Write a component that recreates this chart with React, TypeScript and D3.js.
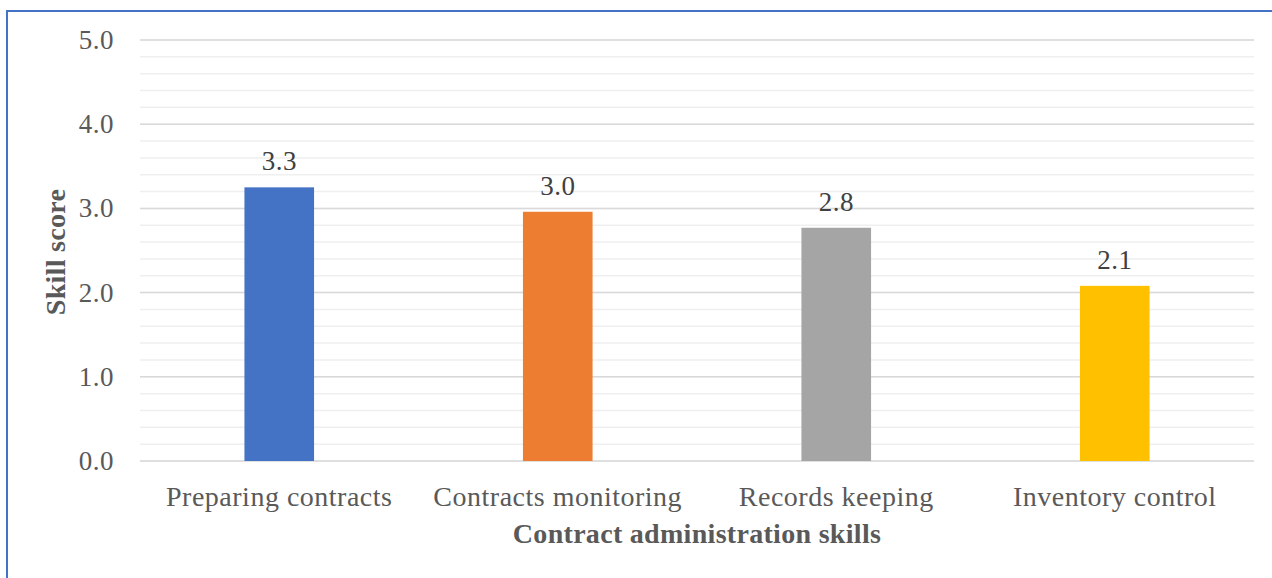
import React from "react";
import * as d3 from "d3";

const categories = ["Preparing contracts", "Contracts monitoring", "Records keeping", "Inventory control"];
const skillScores = [3.25, 2.96, 2.77, 2.08];
const barColors = ["#4472C4", "#ED7D31", "#A5A5A5", "#FFC000"];
const yTicks = [0, 1, 2, 3, 4, 5];
const yMinorTicks = d3.range(0, 5.0001, 0.2);

const W = 1272;
const H = 578;
const margin = { left: 140, right: 18, top: 40, bottom: 117 };

export default function App() {
  const x = d3
    .scaleBand<string>()
    .domain(categories)
    .range([margin.left, W - margin.right])
    .paddingInner(0.75)
    .paddingOuter(0.375);
  const y = d3.scaleLinear().domain([0, 5]).range([H - margin.bottom, margin.top]);
  const fmt = d3.format(".1f");
  const textColor = "#595959";
  const font = "'Liberation Serif', 'Times New Roman', serif";
  const x0 = margin.left;
  const x1 = W - margin.right;

  return (
    <svg
      width={W}
      height={H}
      style={{ position: "absolute", left: 0, top: 0, background: "#fff" }}
      fontFamily={font}
    >
      <rect x={7} y={11} width={W + 10} height={H + 10} fill="none" stroke="#4472C4" strokeWidth={2} />
      {yMinorTicks.map((t, i) => (
        <line key={"m" + i} x1={x0} x2={x1} y1={y(t)} y2={y(t)} stroke="#EFEFEF" strokeWidth={1.5} />
      ))}
      {yTicks.map((t) => (
        <line key={"g" + t} x1={x0} x2={x1} y1={y(t)} y2={y(t)} stroke="#D9D9D9" strokeWidth={1.5} />
      ))}
      {yTicks.map((t) => (
        <text
          key={"t" + t}
          x={114}
          y={y(t)}
          dy="0.33em"
          textAnchor="end"
          fontSize={27}
          fill={textColor}
          letterSpacing={0.5}
        >
          {fmt(t)}
        </text>
      ))}
      {categories.map((c, i) => (
        <g key={c}>
          <rect
            x={x(c)}
            y={y(skillScores[i])}
            width={x.bandwidth()}
            height={y(0) - y(skillScores[i])}
            fill={barColors[i]}
          />
          <text
            x={(x(c) as number) + x.bandwidth() / 2}
            y={y(skillScores[i]) - 17}
            textAnchor="middle"
            fontSize={27}
            fill="#404040"
            letterSpacing={0.5}
          >
            {fmt(skillScores[i])}
          </text>
          <text
            x={(x(c) as number) + x.bandwidth() / 2}
            y={506}
            textAnchor="middle"
            fontSize={28}
            fill={textColor}
            letterSpacing={0.5}
          >
            {c}
          </text>
        </g>
      ))}
      <text
        x={(x0 + x1) / 2}
        y={543}
        textAnchor="middle"
        fontSize={28}
        fontWeight="bold"
        fill={textColor}
        letterSpacing={0.3}
      >
        Contract administration skills
      </text>
      <text
        transform={`translate(65, ${(188 + 316) / 2}) rotate(-90)`}
        textAnchor="middle"
        fontSize={28}
        fontWeight="bold"
        fill={textColor}
        letterSpacing={0.3}
      >
        Skill score
      </text>
    </svg>
  );
}
